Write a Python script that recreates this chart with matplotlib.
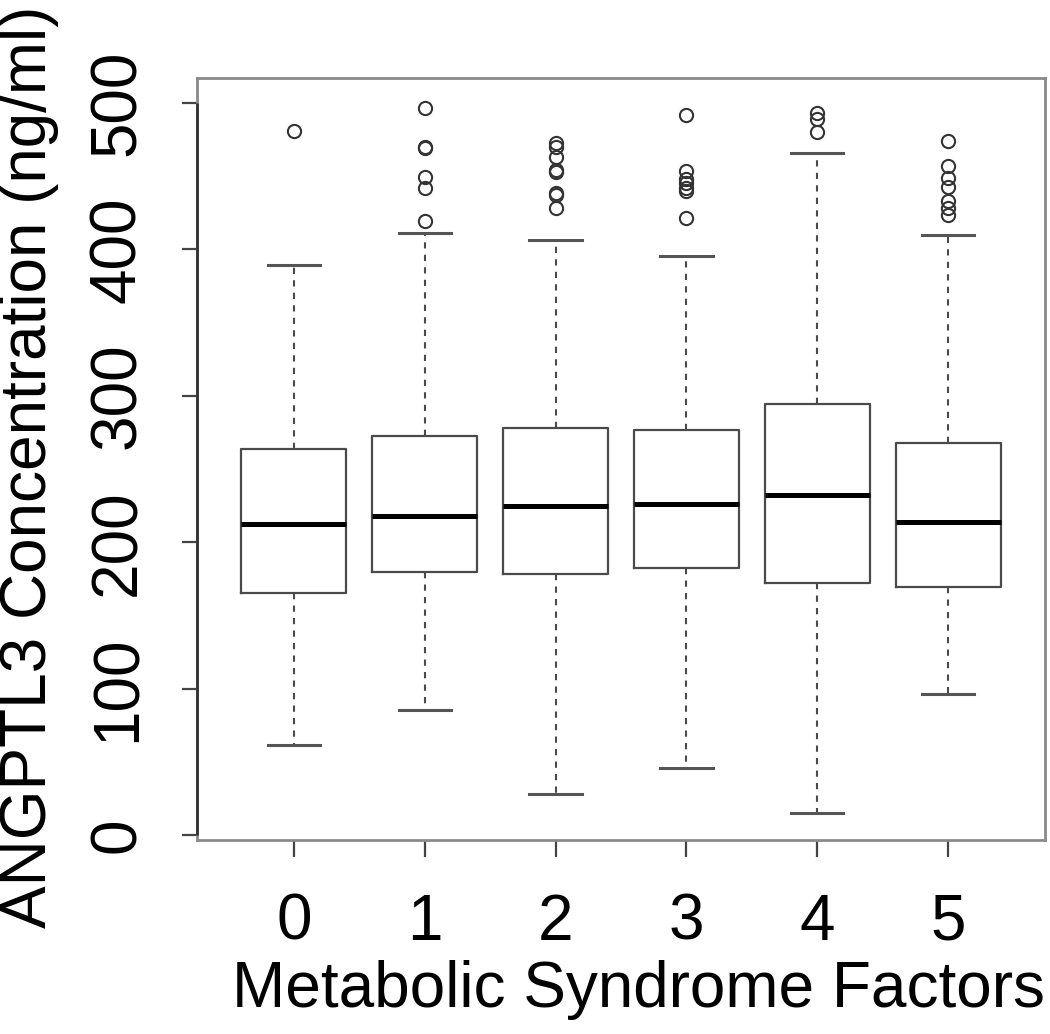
"""
ANGPTL3 concentration by number of metabolic syndrome factors (boxplot).
"""

import matplotlib
matplotlib.use('Agg')
import matplotlib.pyplot as plt

plt.rcParams['font.family'] = ['Liberation Sans', 'DejaVu Sans']

# Groups on the x axis
factors = ['0', '1', '2', '3', '4', '5']

# Box statistics (ng/ml)
whisker_low = [61.3, 85.4, 28.2, 46.0, 15.0, 96.4]
q1 = [165.2, 179.9, 178.4, 182.2, 172.0, 169.3]
median = [212.3, 217.8, 224.8, 226.2, 232.3, 214.1]
q3 = [263.6, 272.7, 277.9, 276.8, 294.3, 268.1]
whisker_high = [389.5, 411.2, 406.6, 395.7, 466.2, 409.8]

# Outliers above the upper whisker
outliers = [
    [481.0],
    [496.8, 470.3, 469.5, 449.8, 442.1, 419.1],
    [472.7, 470.3, 463.1, 454.4, 452.6, 438.5, 437.3, 428.2],
    [491.5, 453.3, 448.1, 445.3, 441.9, 439.6, 421.8],
    [493.2, 489.1, 479.9],
    [474.4, 456.7, 448.7, 442.6, 432.8, 428.2, 423.7],
]

y_ticks = [0, 100, 200, 300, 400, 500]

stats = []
for i in range(len(factors)):
    stats.append({
        'whislo': whisker_low[i], 'q1': q1[i], 'med': median[i],
        'q3': q3[i], 'whishi': whisker_high[i], 'fliers': outliers[i],
        'label': factors[i],
    })

fig = plt.figure(figsize=(10.5, 10.34), dpi=100)
ax = fig.add_axes([197 / 1050, 1 - 840 / 1034, 848 / 1050, 762 / 1034])

box_col = '#4a4a4a'
positions = list(range(1, len(factors) + 1))
ax.bxp(stats, positions=positions, widths=0.8, capwidths=0.4,
       boxprops=dict(color=box_col, linewidth=1.6),
       medianprops=dict(color='black', linewidth=3.6, solid_capstyle='butt'),
       whiskerprops=dict(color=box_col, linewidth=1.5, linestyle=(0, (3, 3))),
       capprops=dict(color='#555555', linewidth=2.2),
       flierprops=dict(marker='o', markerfacecolor='none',
                       markeredgecolor='#333333', markersize=9.5,
                       markeredgewidth=1.5))

ax.set_xlim(0.26, 6.74)
ax.set_ylim(-3.4, 517.1)

for sp in ax.spines.values():
    sp.set_color('#8a8a8a')
    sp.set_linewidth(2.0)

# R-style axis line spanning the tick range
ax.plot([0.26, 0.26], [0, 500], color='#333333', lw=2.0, clip_on=False,
        solid_capstyle='butt', zorder=5)

ax.set_yticks(y_ticks)
ax.set_yticklabels([str(t) for t in y_ticks], rotation=90, va='center')
ax.set_xticks(positions)
ax.set_xticklabels(factors)
ax.tick_params(axis='y', length=11, width=1.6, color='#444444', pad=24,
               labelsize=46)
ax.tick_params(axis='x', length=12, width=1.6, color='#444444', pad=26,
               labelsize=46)

ax.set_xlabel('Metabolic Syndrome Factors', fontsize=46)
ax.xaxis.set_label_coords(0.52, -0.158)
ax.set_ylabel('ANGPTL3 Concentration (ng/ml)', fontsize=46)
ax.yaxis.set_label_coords(-0.163, 0.49)

fig.savefig('out.png', dpi=100)
plt.close(fig)
